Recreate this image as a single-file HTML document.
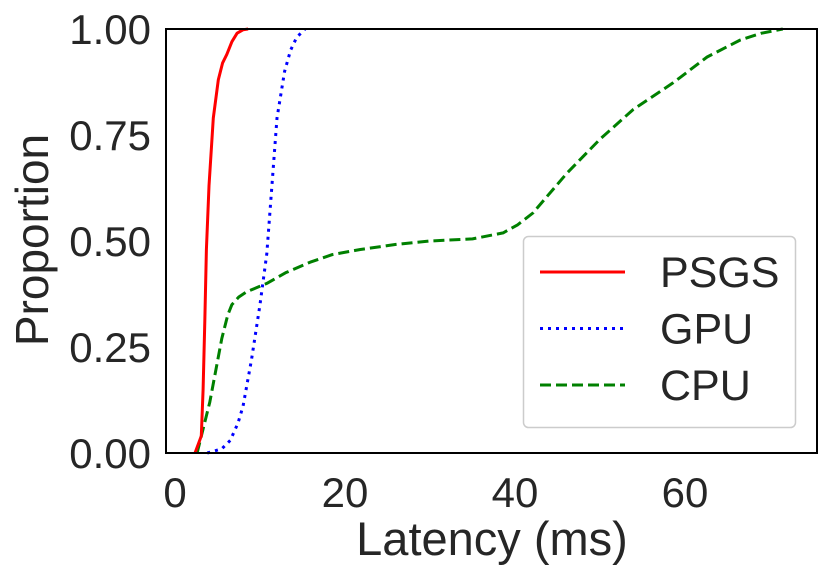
<!DOCTYPE html>
<html><head><meta charset="utf-8"><style>
body{margin:0;background:#fff}
svg text{font-family:"Liberation Sans",sans-serif;fill:#262626}
</style></head><body>
<svg id="c" width="831" height="575" xmlns="http://www.w3.org/2000/svg"></svg>
<script>
const xTicks=[0,20,40,60];
const yTicks=[0,0.25,0.5,0.75,1.0];
const yTickLabels=["0.00","0.25","0.50","0.75","1.00"];
const psgsX=[2.35,3.1,3.3,3.5,3.7,4.0,4.5,5.1,5.6,6.1,6.7,7.3,8.0,8.6];
const psgsY=[0,0.04,0.15,0.31,0.48,0.63,0.79,0.88,0.92,0.94,0.97,0.99,0.998,1.0];
const gpuX=[3.8,5.5,6.5,7.4,8.0,9.0,10.0,10.8,11.4,12.0,12.9,13.6,14.3,15.3];
const gpuY=[0,0.01,0.03,0.07,0.11,0.22,0.35,0.47,0.63,0.79,0.9,0.95,0.98,1.0];
const cpuX=[2.6,4.1,5.5,6.2,6.7,7.5,8.4,10.8,13,15.9,18.5,21.8,26,30,35,38.6,40.3,42.1,46.1,50,53.9,58.6,62.6,66.5,69,71.5];
const cpuY=[0,0.12,0.27,0.325,0.35,0.368,0.38,0.40,0.425,0.45,0.468,0.48,0.492,0.50,0.505,0.519,0.538,0.566,0.66,0.74,0.81,0.873,0.934,0.974,0.99,1.0];
const NS="http://www.w3.org/2000/svg";
const svg=document.getElementById('c');
const L=166,R=817,T=29,B=453;
const sx=v=>175+v*8.5, sy=v=>B-v*(B-T);
function mk(t,a,p){const e=document.createElementNS(NS,t);for(const k in a)e.setAttribute(k,a[k]);(p||svg).appendChild(e);return e;}
function series(xs,ys,color,dash,name){
 const d=xs.map((x,i)=>(i?'L':'M')+sx(x).toFixed(1)+','+sy(ys[i]).toFixed(1)).join('');
 const p=mk('path',{d:d,fill:'none',stroke:color,'stroke-width':3,'stroke-dasharray':dash,'stroke-linejoin':'round'});
 
 
}
series(cpuX,cpuY,'#008000','11 5','cpu-line');
series(gpuX,gpuY,'#0000ff','3 5','gpu-line');
series(psgsX,psgsY,'#ff0000','none','psgs-line');
const fr=mk('rect',{x:L,y:T,width:R-L,height:B-T,fill:'none',stroke:'#000','stroke-width':2});

xTicks.forEach(v=>{const t=mk('text',{x:sx(v),y:507,'font-size':42,'text-anchor':'middle'});t.textContent=v;
 });
yTicks.forEach((v,i)=>{const t=mk('text',{x:151,y:sy(v)+15,'font-size':42,'text-anchor':'end'});t.textContent=yTickLabels[i];
 });
const xl=mk('text',{x:492,y:555,'font-size':47,'text-anchor':'middle'});xl.textContent='Latency (ms)';

const yl=mk('text',{x:0,y:0,'font-size':46,'text-anchor':'middle',transform:'translate(48,240) rotate(-90)'});yl.textContent='Proportion';

const lg=mk('g',{});
mk('rect',{x:523.5,y:236.5,width:272,height:191,rx:5,fill:'#fff',stroke:'#ccc','stroke-width':1.5},lg);
[['PSGS','#ff0000','none'],['GPU','#0000ff','3 5'],['CPU','#008000','11 5']].forEach((e,i)=>{
 const y=272+i*56.5;
 const ln=mk('line',{x1:540,x2:625,y1:y,y2:y,stroke:e[1],'stroke-width':3,'stroke-dasharray':e[2]},lg);
 
 const t=mk('text',{x:660,y:y+15,'font-size':43},lg);t.textContent=e[0];
 
});
</script>
</body></html>
